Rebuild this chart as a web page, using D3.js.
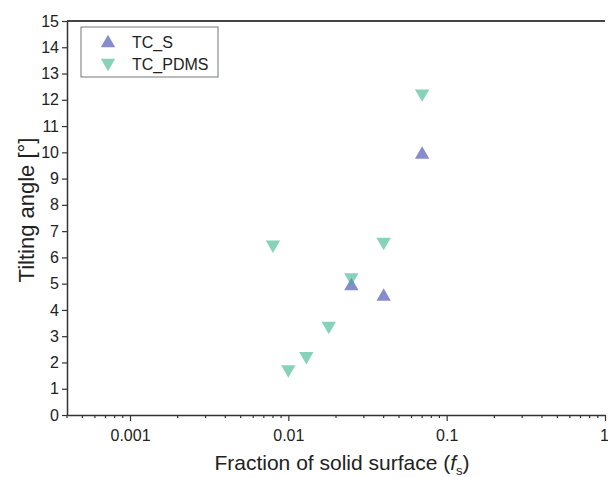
<!DOCTYPE html>
<html>
<head>
<meta charset="utf-8">
<script src="https://cdn.jsdelivr.net/npm/d3@7"></script>
<style>
  body { margin: 0; background: #fff; }
  svg { font-family: "Liberation Sans", Arial, sans-serif; }
</style>
</head>
<body>
<div id="chart-area"></div>
<script>
// data
const seriesNames = ["TC_S", "TC_PDMS"]
const tcSX = [0.025, 0.04, 0.07]
const tcSY = [4.95, 4.55, 9.95]
const tcPdmsX = [0.008, 0.01, 0.013, 0.018, 0.025, 0.04, 0.07]
const tcPdmsY = [6.45, 1.7, 2.2, 3.35, 5.2, 6.55, 12.2]
const yTicks = d3.range(0, 16)
const xTicks = [0.001, 0.01, 0.1, 1]

const W = 608, H = 477
const MARGIN = { LEFT: 67, RIGHT: 3, TOP: 21, BOTTOM: 62 }
const WIDTH = W - MARGIN.LEFT - MARGIN.RIGHT
const HEIGHT = H - MARGIN.TOP - MARGIN.BOTTOM

const svg = d3.select("#chart-area").append("svg")
  .attr("width", W)
  .attr("height", H)

const g = svg.append("g")
  .attr("transform", `translate(${MARGIN.LEFT}, ${MARGIN.TOP})`)

const x = d3.scaleLog()
  .domain([0.0004, 1])
  .range([0, WIDTH])

const y = d3.scaleLinear()
  .domain([0, 15])
  .range([HEIGHT, 0])

// top frame line
g.append("line")
  .attr("x1", 0).attr("x2", WIDTH)
  .attr("y1", 0).attr("y2", 0)
  .attr("stroke", "#444").attr("stroke-width", 2)

// minor x ticks
const minor = []
for (let e = -4; e <= -1; e++) {
  for (let m = 2; m <= 9; m++) {
    const v = m * Math.pow(10, e)
    if (v >= 0.0004 && v <= 1) minor.push(v)
  }
}
g.append("g")
  .attr("transform", `translate(0,${HEIGHT})`)
  .selectAll("line").data(minor).enter().append("line")
  .attr("x1", d => x(d)).attr("x2", d => x(d))
  .attr("y1", 0).attr("y2", 3)
  .attr("stroke", "#333").attr("stroke-width", 1.2)

// X axis
const xAxis = d3.axisBottom(x)
  .tickValues(xTicks)
  .tickFormat(d => String(d))
  .tickSize(6)
  .tickSizeOuter(0)
const xg = g.append("g")
  .attr("transform", `translate(0,${HEIGHT})`)
  .call(xAxis)
xg.select(".domain").attr("stroke", "#333").attr("stroke-width", 1.5)
xg.selectAll(".tick line").attr("stroke", "#333").attr("stroke-width", 1.2)
xg.selectAll("text").attr("font-size", 16).attr("fill", "#222")
  .attr("font-family", "Liberation Sans, Arial, sans-serif").attr("dy", "1.05em")
  .attr("dx", d => d === 1 ? -1 : 0)

// Y axis
const yAxis = d3.axisLeft(y)
  .tickValues(yTicks)
  .tickSize(5)
  .tickSizeOuter(0)
const yg = g.append("g").call(yAxis)
yg.select(".domain").attr("stroke", "#333").attr("stroke-width", 1.5)
yg.selectAll(".tick line").attr("stroke", "#333").attr("stroke-width", 1.2)
yg.selectAll("text").attr("font-size", 16).attr("fill", "#222")
  .attr("font-family", "Liberation Sans, Arial, sans-serif").attr("x", -8)

// markers
const upTri = d3.symbol().type(d3.symbolTriangle).size(90)
const colS = "rgb(55,65,170)"
const colP = "rgb(55,180,140)"

g.selectAll(".ts").data(tcSX).enter().append("path")
  .attr("class", "ts")
  .attr("d", upTri)
  .attr("transform", (d, i) => `translate(${x(d)},${y(tcSY[i]) + 1})`)
  .attr("fill", colS).attr("fill-opacity", 0.6)

g.selectAll(".tp").data(tcPdmsX).enter().append("path")
  .attr("class", "tp")
  .attr("d", upTri)
  .attr("transform", (d, i) => `translate(${x(d)},${y(tcPdmsY[i]) - 1}) rotate(180)`)
  .attr("fill", colP).attr("fill-opacity", 0.6)

// legend
const lg = svg.append("g").attr("transform", "translate(81,27)")
lg.append("rect")
  .attr("width", 137).attr("height", 50)
  .attr("fill", "#fff").attr("stroke", "#777").attr("stroke-width", 1)
lg.selectAll(".li").data(seriesNames).enter().append("g")
  .attr("transform", (d, i) => `translate(0,${15 + i * 22})`)
  .each(function (d, i) {
    const s = d3.select(this)
    s.append("path").attr("d", upTri)
      .attr("transform", `translate(27,${i === 0 ? 1 : -1})${i === 1 ? " rotate(180)" : ""}`)
      .attr("fill", i === 0 ? colS : colP).attr("fill-opacity", 0.6)
    s.append("text").attr("x", 51).attr("y", 6)
      .attr("font-size", 16).attr("fill", "#222").text(d)
  })

// axis titles
svg.append("text")
  .attr("transform", `translate(34,210) rotate(-90)`)
  .attr("text-anchor", "middle")
  .attr("font-size", 22).attr("fill", "#222")
  .text("Tilting angle [°]")

const xt = svg.append("text")
  .attr("x", 342).attr("y", 470)
  .attr("text-anchor", "middle")
  .attr("font-size", 21).attr("fill", "#222")
xt.append("tspan").text("Fraction of solid surface (")
xt.append("tspan").attr("font-style", "italic").text("f")
xt.append("tspan").attr("font-size", 13).attr("dy", 5).text("s")
xt.append("tspan").attr("dy", -5).text(")")
</script>
</body>
</html>
